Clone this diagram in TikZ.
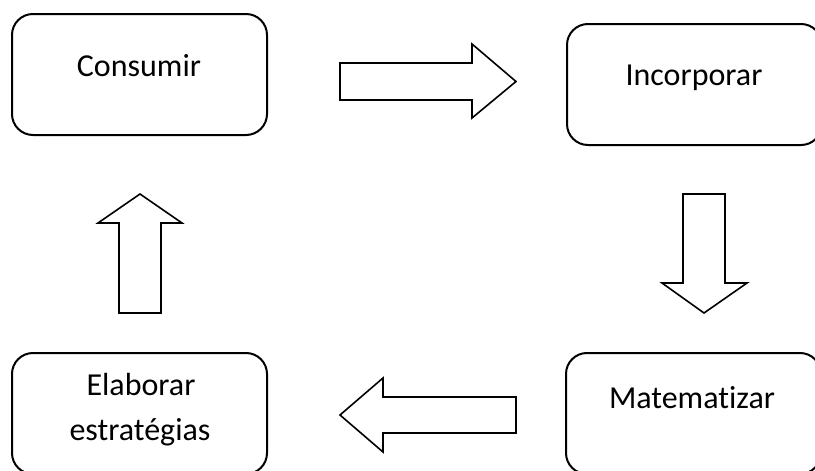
\documentclass[tikz,border=0pt]{standalone}
\usepackage{fontspec}
\setmainfont[Ligatures={NoCommon}]{Carlito}
\begin{document}
\begin{tikzpicture}[x=1pt,y=-1pt,
  box/.style={draw=black, line width=2pt, rounded corners=21pt, minimum width=255pt, minimum height=121pt, inner sep=0pt},
  lbl/.style={font=\fontsize{32}{45}\selectfont, inner sep=0pt, anchor=base},
  blockarrow/.style={draw=black, line width=1.6pt, fill=white, line join=miter}]
\useasboundingbox (0,0) rectangle (815,471);
\clip (0,0) rectangle (815,471);
% boxes
\node[box] (consumir) at (139.5,74.5) {};
\node[box] (incorporar) at (694.5,84.5) {};
\node[box] (matematizar) at (693.5,413.5) {};
\node[box] (elaborar) at (139.5,413.5) {};
% labels
\node[lbl] (tconsumir) at (139,76) {Consumir};
\node[lbl] (tincorporar) at (694,85) {Incorporar};
\node[lbl] (tmatematizar) at (692,408) {Matematizar};
\node[lbl] (telaborar1) at (141,395) {Elaborar};
\node[lbl] (telaborar2) at (140,440) {estratégias};
% block arrows
\draw[blockarrow] (340,63) -- (472,63) -- (472,44) -- (516,81.5) -- (472,118) -- (472,100) -- (340,100) -- cycle;
\draw[blockarrow] (683,194) -- (725,194) -- (725,283) -- (747,283) -- (704,313) -- (662,283) -- (683,283) -- cycle;
\draw[blockarrow] (516,397) -- (383,397) -- (383,378) -- (340,415) -- (383,452) -- (383,433) -- (516,433) -- cycle;
\draw[blockarrow] (119,313) -- (119,223) -- (98,223) -- (140,194) -- (182,223) -- (161,223) -- (161,313) -- cycle;
\end{tikzpicture}
\end{document}
